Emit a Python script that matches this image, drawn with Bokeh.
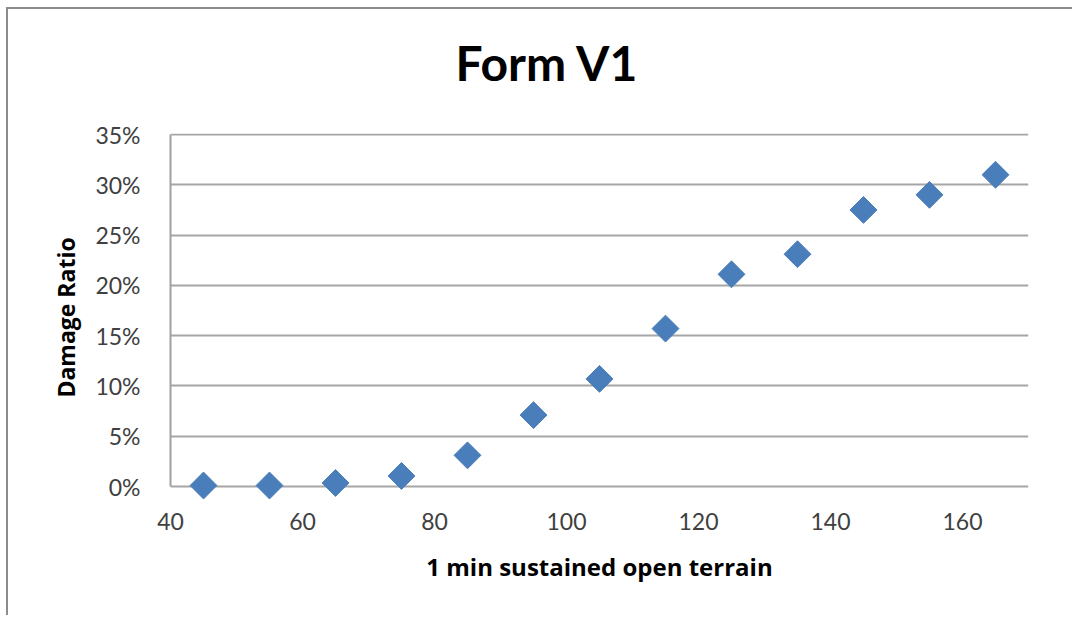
import math
from bokeh.plotting import figure
from bokeh.models import ColumnDataSource, FixedTicker, NumeralTickFormatter, Title
from bokeh.embed import file_html
from bokeh.resources import INLINE

# ---- data ----
wind_speed = [45, 55, 65, 75, 85, 95, 105, 115, 125, 135, 145, 155, 165]
damage_ratio = [0.001, 0.001, 0.0035, 0.0105, 0.031, 0.071, 0.107, 0.157,
                0.211, 0.231, 0.275, 0.29, 0.31]
x_ticks = [40, 60, 80, 100, 120, 140, 160]
y_ticks = [0.0, 0.05, 0.10, 0.15, 0.20, 0.25, 0.30, 0.35]
title_text = "Form V1"
x_label = "1 min sustained open terrain"
y_label = "Damage Ratio"

TICK_FONT = "Lato"
LABEL_FONT = "Open Sans"

source = ColumnDataSource(data=dict(x=wind_speed, y=damage_ratio))

p = figure(width=1066, height=608, x_range=(40, 170), y_range=(-0.0149, 0.351),
           output_backend="svg", toolbar_location=None,
           min_border_left=162, min_border_right=46,
           min_border_top=124, min_border_bottom=116)
p.styles = {"border-left": "2px solid #8c8c8c", "border-top": "2px solid #8c8c8c",
            "margin-left": "6px", "margin-top": "7px"}

p.title.text = title_text
p.title.align = "left"
p.title.offset = 285
p.title.vertical_align = "top"
p.title.standoff = 0
p.title.text_font = "Lato"
p.title.text_font_size = "48px"
p.title.text_font_style = "bold"
p.title.text_color = "#000000"

# blank spacer between the title and the plot area
p.add_layout(Title(text=" ", text_font_size="1px", standoff=38), "above")

p.scatter(x="x", y="y", source=source, marker="square", size=19,
          angle=math.pi / 4, fill_color="#4a7ebb", line_color="#4a7ebb")

p.outline_line_color = None
p.background_fill_color = "white"
p.border_fill_color = "white"

p.xgrid.grid_line_color = None
p.ygrid.grid_line_color = "#a6a6a6"
p.ygrid.grid_line_width = 2

p.xaxis.ticker = FixedTicker(ticks=x_ticks)
p.yaxis.ticker = FixedTicker(ticks=y_ticks)
p.yaxis.formatter = NumeralTickFormatter(format="0%")
p.yaxis.bounds = (0, 0.35)

for ax in (p.xaxis[0], p.yaxis[0]):
    ax.major_tick_line_color = None
    ax.minor_tick_line_color = None
    ax.major_tick_out = 0
    ax.major_tick_in = 0
    ax.minor_tick_out = 0
    ax.minor_tick_in = 0
    ax.major_label_text_font = TICK_FONT
    ax.major_label_text_font_size = "23px"
    ax.major_label_text_color = "#404040"
    ax.axis_label_text_font = LABEL_FONT
    ax.axis_label_text_font_style = "bold"
    ax.axis_label_text_color = "#000000"

p.xaxis.axis_label_text_font_size = "24px"
p.yaxis.axis_label_text_font_size = "23px"

p.xaxis.axis_line_color = None
p.yaxis.axis_line_color = "#a0a0a0"
p.yaxis.axis_line_width = 2

p.xaxis.axis_label = x_label
p.yaxis.axis_label = y_label
p.xaxis.major_label_standoff = 11
p.yaxis.major_label_standoff = 30
p.xaxis.axis_label_standoff = 17
p.yaxis.axis_label_standoff = 10

open("out.html", "w").write(file_html(p, INLINE))
